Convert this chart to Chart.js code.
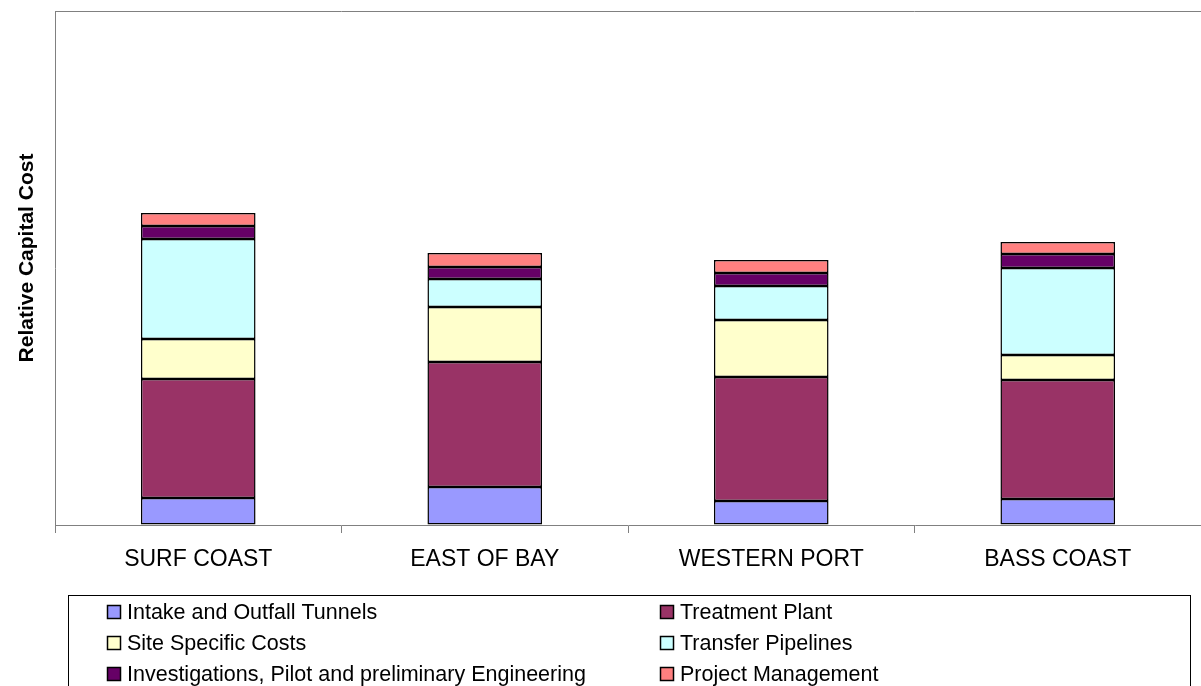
<!DOCTYPE html>
<html>
<head>
<meta charset="utf-8">
<title>Relative Capital Cost</title>
<script src="https://cdn.jsdelivr.net/npm/chart.js@4/dist/chart.umd.min.js"></script>
<style>
  html, body { margin: 0; padding: 0; background: #fff; overflow: hidden; }
  #costChart { display: block; }
</style>
</head>
<body>
<canvas id="costChart" width="1201" height="686"></canvas>
<script>
// Sites and cost components (relative units)
const sites = ['SURF COAST', 'EAST OF BAY', 'WESTERN PORT', 'BASS COAST'];
const intakeTunnels = [27, 38, 24, 26];
const treatmentPlant = [119, 125, 124, 119];
const siteSpecific = [40, 55, 57, 25];
const transferPipelines = [100, 28, 34, 87];
const investigations = [13, 12, 13, 14];
const projectManagement = [13, 14, 13, 12];
const axisMax = 514;
const yTitle = 'Relative Capital Cost';

const FONT = '"Liberation Sans", Arial, sans-serif';

// Legend drawn into the canvas in two columns, like the original
const gridLegend = {
    id: 'gridLegend',
    afterDraw(chart) {
        const ctx = chart.ctx;
        const box = { left: 68.5, top: 595.5, right: 1190.5, bottom: 700 };
        const colX = [107, 660];
        const rowY = [612, 643, 674];
        ctx.save();
        ctx.strokeStyle = '#000';
        ctx.lineWidth = 1;
        ctx.strokeRect(box.left, box.top, box.right - box.left, box.bottom - box.top);
        ctx.font = '21.5px ' + FONT;
        ctx.textBaseline = 'middle';
        chart.data.datasets.forEach((ds, i) => {
            const x = colX[i % 2];
            const y = rowY[Math.floor(i / 2)];
            ctx.fillStyle = ds.backgroundColor;
            ctx.fillRect(x, y - 7, 14, 14);
            ctx.strokeStyle = '#000';
            ctx.lineWidth = 1.5;
            ctx.strokeRect(x + 0.5, y - 6.5, 13, 13);
            ctx.fillStyle = '#000';
            ctx.fillText(ds.label, x + 20, y + 1);
        });
        ctx.restore();
    }
};

// Gray line along the top of the plot area, plus the rotated axis title
const frameAndTitle = {
    id: 'frameAndTitle',
    afterDraw(chart) {
        const a = chart.chartArea;
        const ctx = chart.ctx;
        ctx.save();
        ctx.strokeStyle = '#808080';
        ctx.lineWidth = 1;
        ctx.beginPath();
        ctx.moveTo(a.left, a.top + 0.5);
        ctx.lineTo(a.right, a.top + 0.5);
        ctx.stroke();

        ctx.translate(33, 258);
        ctx.rotate(-Math.PI / 2);
        ctx.font = 'bold 21px ' + FONT;
        ctx.fillStyle = '#000';
        ctx.textAlign = 'center';
        ctx.textBaseline = 'alphabetic';
        ctx.fillText(yTitle, 0, 0);
        ctx.restore();
    }
};

function makeSet(label, data, color) {
    return {
        label: label,
        data: data,
        backgroundColor: color,
        borderColor: '#000',
        borderWidth: 1.5,
        borderSkipped: false,
        barPercentage: 0.4,
        categoryPercentage: 1.0
    };
}

const ctx = document.getElementById('costChart').getContext('2d');
new Chart(ctx, {
    type: 'bar',
    data: {
        labels: sites,
        datasets: [
            makeSet('Intake and Outfall Tunnels', intakeTunnels, '#9999FF'),
            makeSet('Treatment Plant', treatmentPlant, '#993366'),
            makeSet('Site Specific Costs', siteSpecific, '#FFFFCC'),
            makeSet('Transfer Pipelines', transferPipelines, '#CCFFFF'),
            makeSet('Investigations, Pilot and preliminary Engineering', investigations, '#660066'),
            makeSet('Project Management', projectManagement, '#FF8080')
        ]
    },
    options: {
        responsive: false,
        animation: false,
        devicePixelRatio: 1,
        layout: { padding: { top: 11, right: 0, left: 0, bottom: 0 } },
        plugins: {
            legend: { display: false },
            tooltip: { enabled: false }
        },
        scales: {
            x: {
                stacked: true,
                afterFit: scale => { scale.height = 161; },
                border: { color: '#808080', width: 1 },
                grid: {
                    offset: true,
                    drawOnChartArea: false,
                    drawTicks: true,
                    tickLength: 8,
                    color: '#808080'
                },
                ticks: {
                    color: '#000',
                    padding: 13,
                    font: { family: FONT, size: 23 }
                }
            },
            y: {
                stacked: true,
                min: 0,
                max: axisMax,
                afterFit: scale => { scale.width = 55; },
                border: { color: '#808080', width: 1 },
                grid: { drawOnChartArea: false, drawTicks: false },
                ticks: { display: false }
            }
        }
    },
    plugins: [gridLegend, frameAndTitle]
});
</script>
</body>
</html>
